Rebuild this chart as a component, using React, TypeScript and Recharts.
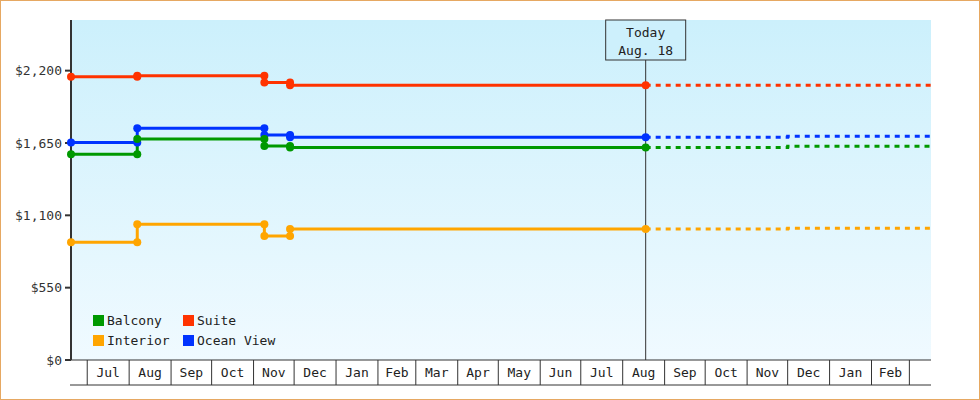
import React from 'react';
import { LineChart, Line, XAxis, YAxis, CartesianGrid, ReferenceLine, Legend } from 'recharts';

const FONT = '"DejaVu Sans Mono", "Liberation Mono", monospace';

// 価格改定日 (最初は表示開始日)
const PRICE_DATES = ['2021-06-19', '2021-08-07', '2021-11-09', '2021-11-28'];
const TODAY = '2022-08-18';
const PROJECTION_DATES = ['2022-12-01'];
const END_DATE = '2023-03-17';

// 各キャビンの価格 (改定日ごと)
const balcony = [1564, 1681, 1627, 1616];
const suite = [2154, 2162, 2109, 2089];
const interior = [895, 1032, 943, 996];
const oceanView = [1653, 1762, 1711, 1694];

// 予測 (破線部分)
const balconyProjected = [1625];
const suiteProjected = [2089];
const interiorProjected = [1002];
const oceanViewProjected = [1701];

const MONTH_STARTS = [
    '2021-07-01', '2021-08-01', '2021-09-01', '2021-10-01', '2021-11-01', '2021-12-01',
    '2022-01-01', '2022-02-01', '2022-03-01', '2022-04-01', '2022-05-01', '2022-06-01',
    '2022-07-01', '2022-08-01', '2022-09-01', '2022-10-01', '2022-11-01', '2022-12-01',
    '2023-01-01', '2023-02-01', '2023-03-01',
];
const MONTH_LABELS = [
    'Jul', 'Aug', 'Sep', 'Oct', 'Nov', 'Dec', 'Jan', 'Feb', 'Mar', 'Apr',
    'May', 'Jun', 'Jul', 'Aug', 'Sep', 'Oct', 'Nov', 'Dec', 'Jan', 'Feb',
];

const Y_TICKS = [0, 550, 1100, 1650, 2200];
const Y_MAX = 2585;

// レイアウト
const WIDTH = 980;
const HEIGHT = 400;
const Y_AXIS_W = 71;
const MARGIN = { top: 20, right: 49, bottom: 14, left: 0 };
const PLOT_W = WIDTH - Y_AXIS_W - MARGIN.right;

const ts = (d: string) => Date.parse(d);
const START = ts(PRICE_DATES[0]);
const END = ts(END_DATE);

interface Series {
    name: string;
    color: string;
    values: number[];
    projected: number[];
}

// 凡例の並び順
const SERIES: Series[] = [
    { name: 'Balcony', color: '#009900', values: balcony, projected: balconyProjected },
    { name: 'Suite', color: '#ff3300', values: suite, projected: suiteProjected },
    { name: 'Interior', color: '#ffa500', values: interior, projected: interiorProjected },
    { name: 'Ocean View', color: '#0033ff', values: oceanView, projected: oceanViewProjected },
];
// 描画順 (後ろが上)
const DRAW_ORDER = ['Interior', 'Ocean View', 'Balcony', 'Suite'];

// 階段状の点列を作る (各改定日に旧値と新値の2点)
const stepPoints = (dates: string[], values: number[], end: string) => {
    const pts: { t: number; v: number }[] = [];
    values.forEach((v, i) => {
        pts.push({ t: ts(dates[i]), v });
        pts.push({ t: ts(i + 1 < dates.length ? dates[i + 1] : end), v });
    });
    return pts;
};

const BOUNDARIES = new Set(MONTH_STARTS.map(ts));
const MID_LABELS = new Map<number, string>();
MONTH_LABELS.forEach((label, i) => {
    MID_LABELS.set((ts(MONTH_STARTS[i]) + ts(MONTH_STARTS[i + 1])) / 2, label);
});
const X_TICKS = [START, ...BOUNDARIES, ...MID_LABELS.keys()].sort((a, b) => a - b);

const MonthTick = ({ x, y, payload }: any) => {
    const v = payload.value;
    if (v === START) {
        return <line x1={x - 1} y1={y + 25} x2={x + PLOT_W} y2={y + 25} stroke="#333" />;
    }
    if (BOUNDARIES.has(v)) {
        return <line x1={x} y1={y} x2={x} y2={y + 25} stroke="#333" />;
    }
    return (
        <text x={x} y={y + 17} textAnchor="middle" fill="#222" fontSize={13} fontFamily={FONT}>
            {MID_LABELS.get(v)}
        </text>
    );
};

const TodayLabel = ({ viewBox }: any) => {
    const { x, y } = viewBox;
    return (
        <g>
            <rect x={x - 40} y={y} width={80} height={40} fill="#cdf0fc" stroke="#333" />
            <text x={x} y={y + 17} textAnchor="middle" fill="#222" fontSize={13} fontFamily={FONT}>Today</text>
            <text x={x} y={y + 35} textAnchor="middle" fill="#222" fontSize={13} fontFamily={FONT}>Aug. 18</text>
        </g>
    );
};

const CabinLegend = () => (
    <div style={{
        display: 'grid', gridTemplateColumns: '90px auto',
        fontFamily: FONT, fontSize: 13, color: '#222',
    }}>
        {SERIES.map(s => (
            <div key={s.name} style={{ display: 'flex', alignItems: 'center', height: 20, whiteSpace: 'nowrap' }}>
                <span style={{ width: 11, height: 11, background: s.color, marginRight: 3, flex: 'none' }} />
                {s.name}
            </div>
        ))}
    </div>
);

export default function App() {
    const ordered = DRAW_ORDER.map(n => SERIES.find(s => s.name === n)!);

    return (
        <div style={{
            position: 'absolute', left: 0, top: 0, width: WIDTH, height: HEIGHT,
            background: '#fff', boxShadow: 'inset 0 0 0 1px #e6a862',
        }}>
            <LineChart width={WIDTH} height={HEIGHT} margin={MARGIN}>
                <defs>
                    <linearGradient id="plotBg" x1="0" y1="0" x2="0" y2="1">
                        <stop offset="0%" stopColor="#ccf0fc" />
                        <stop offset="100%" stopColor="#f0faff" />
                    </linearGradient>
                </defs>
                <CartesianGrid horizontal={false} vertical={false} fill="url(#plotBg)" />
                <XAxis
                    type="number"
                    dataKey="t"
                    domain={[START, END]}
                    ticks={X_TICKS}
                    interval={0}
                    tick={(p: any) => <MonthTick {...p} />}
                    tickLine={false}
                    tickSize={0}
                    tickMargin={0}
                    height={26}
                    axisLine={{ stroke: '#333' }}
                />
                <YAxis
                    type="number"
                    dataKey="v"
                    domain={[0, Y_MAX]}
                    ticks={Y_TICKS}
                    width={Y_AXIS_W}
                    tickFormatter={(v) => `$${v.toLocaleString('en-US')}`}
                    tick={{ fill: '#333', fontSize: 13, fontFamily: FONT }}
                    axisLine={{ stroke: '#333', strokeWidth: 2 }}
                    tickLine={{ stroke: '#333', strokeWidth: 2 }}
                    tickSize={6}
                    tickMargin={3}
                />
                <ReferenceLine x={ts(TODAY)} stroke="#333" strokeWidth={1} label={(p: any) => <TodayLabel {...p} />} />
                {ordered.map(s => (
                    <Line
                        key={`${s.name}-proj`}
                        data={stepPoints([TODAY, ...PROJECTION_DATES], [s.values[s.values.length - 1], ...s.projected], END_DATE)}
                        dataKey="v"
                        type="linear"
                        stroke={s.color}
                        strokeWidth={3}
                        strokeDasharray="5 5"
                        dot={false}
                        activeDot={false}
                        legendType="none"
                        isAnimationActive={false}
                    />
                ))}
                {ordered.map(s => (
                    <Line
                        key={s.name}
                        name={s.name}
                        data={stepPoints(PRICE_DATES, s.values, TODAY)}
                        dataKey="v"
                        type="linear"
                        stroke={s.color}
                        strokeWidth={3}
                        dot={{ r: 4, fill: s.color, stroke: 'none' }}
                        activeDot={false}
                        isAnimationActive={false}
                    />
                ))}
                <Legend
                    layout="horizontal"
                    verticalAlign="middle"
                    align="center"
                    wrapperStyle={{ left: 93, top: 310, width: 220 }}
                    content={() => <CabinLegend />}
                />
            </LineChart>
        </div>
    );
}
